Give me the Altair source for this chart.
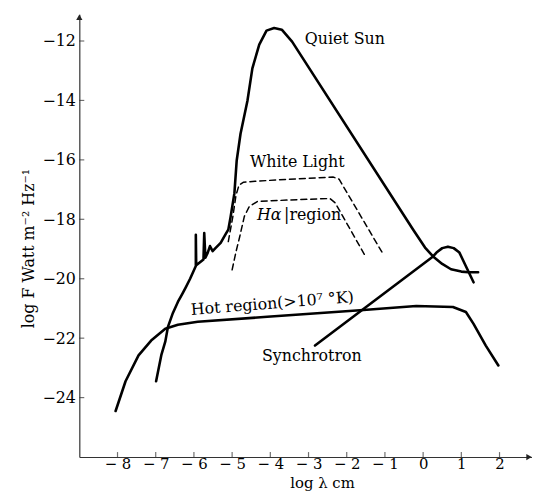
import altair as alt
import pandas as pd

# ---- axes ----
X_DOMAIN = [-9, 2.85]
Y_DOMAIN = [-26, -11.1]
X_TICKS = [-8, -7, -6, -5, -4, -3, -2, -1, 0, 1, 2]
Y_TICKS = [-24, -22, -20, -18, -16, -14, -12]

# ---- curves (log lambda [cm], log F) ----
quiet_x = [-6.99, -6.85, -6.75, -6.68, -6.55, -6.42, -6.3, -6.21, -6.1, -5.95,
           -5.95, -5.94, -5.75, -5.73, -5.7, -5.64, -5.58, -5.51, -5.43, -5.3,
           -5.17, -5.1, -5.04, -4.94, -4.88, -4.78, -4.6, -4.47, -4.29, -4.1,
           -3.9, -3.7, -3.43, -0.26, 0.05, 0.26, 0.5, 0.73, 1.0, 1.19, 1.44]
quiet_y = [-23.45, -22.55, -22.12, -21.62, -21.15, -20.78, -20.5, -20.28, -20.0, -19.57,
           -18.52, -19.55, -19.35, -18.46, -19.29, -19.13, -18.9, -19.07, -18.96, -18.79,
           -18.5, -18.35, -17.92, -17.12, -16.02, -15.12, -14.02, -12.92, -12.12, -11.65,
           -11.56, -11.62, -12.02, -18.35, -18.95, -19.25, -19.5, -19.68, -19.76, -19.78, -19.78]

hot_x = [-8.05, -7.79, -7.45, -7.12, -6.75, -6.42, -5.9, -4.08, -1.56, -0.18,
         0.78, 1.12, 1.32, 1.64, 1.97]
hot_y = [-24.45, -23.45, -22.58, -22.08, -21.68, -21.55, -21.45, -21.28, -21.05, -20.92,
         -20.95, -21.12, -21.52, -22.25, -22.92]

sync_x = [-2.83, 0.26, 0.35, 0.5, 0.65, 0.8, 0.95, 1.12, 1.32]
sync_y = [-22.25, -19.25, -19.12, -18.97, -18.92, -18.97, -19.12, -19.58, -20.12]

white_x = [-5.1, -4.98, -4.9, -4.82, -4.7, -4.4, -3.5, -2.35, -2.2, -1.08]
white_y = [-18.75, -17.9, -17.2, -16.85, -16.75, -16.72, -16.65, -16.58, -16.65, -19.1]

halpha_x = [-5.0, -4.9, -4.8, -4.68, -4.55, -4.34, -3.5, -2.44, -2.3, -1.53]
halpha_y = [-19.7, -19.1, -18.58, -17.9, -17.57, -17.4, -17.35, -17.3, -17.45, -19.2]

# ---- labels ----
label_text = ["Quiet Sun", "White Light", "|region", "Synchrotron"]
label_x = [-3.10, -4.53, -3.64, -4.22]
label_y = [-11.95, -16.08, -17.85, -22.6]
italic_text = ["Hα"]
italic_x = [-4.35]
italic_y = [-17.85]
hot_text = ["Hot region(>10⁷ °K)"]
hot_lx = [-6.08]
hot_ly = [-21.05]

FONT = "DejaVu Serif"


def frame(xs, ys):
    return pd.DataFrame({"x": xs, "y": ys, "i": list(range(len(xs)))})


x_axis = alt.Axis(values=X_TICKS, title="log λ cm", ticks=False, grid=False,
                  domainColor="#333333", domainWidth=1.2,
                  labelFont=FONT, labelFontSize=15, labelColor="black", labelPadding=0,
                  labelExpr="datum.value < 0 ? '− ' + abs(datum.value) : '' + datum.value",
                  labelFlush=False,
                  titleFont=FONT, titleFontSize=15, titleFontWeight="normal", titleColor="black",
                  titleX=245, titleY=26, titleAlign="center", titleBaseline="middle")
y_axis = alt.Axis(values=Y_TICKS, title="log F Watt m⁻² Hz⁻¹", ticks=False, grid=False,
                  domainColor="#333333", domainWidth=1.2,
                  labelFont=FONT, labelFontSize=16, labelColor="black", labelPadding=4,
                  labelExpr="'−' + abs(datum.value)", labelFlush=False,
                  titleFont=FONT, titleFontSize=16, titleFontWeight="normal", titleColor="black",
                  titleAngle=270, titleX=-51, titleY=236, titleAlign="center",
                  titleBaseline="middle")

X = alt.X("x:Q", scale=alt.Scale(domain=X_DOMAIN, nice=False, zero=False), axis=x_axis)
Y = alt.Y("y:Q", scale=alt.Scale(domain=Y_DOMAIN, nice=False, zero=False), axis=y_axis)


def curve(xs, ys, dashed=False):
    props = dict(color="black", strokeWidth=1.5 if dashed else 2.6,
                 strokeCap="round", strokeJoin="round")
    if dashed:
        props["strokeDash"] = [6, 4]
    return alt.Chart(frame(xs, ys)).mark_line(**props).encode(x=X, y=Y, order="i:O")


layers = [
    curve(quiet_x, quiet_y),
    curve(hot_x, hot_y),
    curve(sync_x, sync_y),
    curve(white_x, white_y, dashed=True),
    curve(halpha_x, halpha_y, dashed=True),
]

# axis ticks drawn inside the plot
xt = alt.Chart(pd.DataFrame({"x": X_TICKS})).mark_tick(
    orient="vertical", size=5, thickness=1.2, color="#333333", yOffset=-2.5
).encode(x=X, y=alt.YDatum(Y_DOMAIN[0]))
yt = alt.Chart(pd.DataFrame({"y": Y_TICKS})).mark_tick(
    orient="horizontal", size=5, thickness=1.2, color="#333333", xOffset=2.5
).encode(y=Y, x=alt.XDatum(X_DOMAIN[0]))

# arrow heads
ax_up = alt.Chart(pd.DataFrame({"x": [X_DOMAIN[0]], "y": [Y_DOMAIN[1]]})).mark_point(
    shape="triangle-up", filled=True, size=40, color="#222222", opacity=1, yOffset=3
).encode(x=X, y=Y)
ax_right = alt.Chart(pd.DataFrame({"x": [X_DOMAIN[1]], "y": [Y_DOMAIN[0]]})).mark_point(
    shape="triangle-right", filled=True, size=40, color="#222222", opacity=1, xOffset=-3
).encode(x=X, y=Y)

labels = alt.Chart(pd.DataFrame({"x": label_x, "y": label_y, "t": label_text})).mark_text(
    font=FONT, fontSize=16, align="left", baseline="middle", color="black"
).encode(x=X, y=Y, text="t:N")
italic = alt.Chart(pd.DataFrame({"x": italic_x, "y": italic_y, "t": italic_text})).mark_text(
    font=FONT, fontSize=16, fontStyle="italic", align="left", baseline="middle", color="black"
).encode(x=X, y=Y, text="t:N")
hot_label = alt.Chart(pd.DataFrame({"x": hot_lx, "y": hot_ly, "t": hot_text})).mark_text(
    font=FONT, fontSize=16, align="left", baseline="middle", color="black", angle=355.5
).encode(x=X, y=Y, text="t:N")

chart = alt.layer(*layers, xt, yt, ax_up, ax_right, labels, italic, hot_label).properties(
    width=457, height=447,
    autosize=alt.AutoSizeParams(type="none"),
    padding={"left": 72, "top": 4, "right": 0, "bottom": 35},
    background="white",
).configure_view(stroke=None)

chart.save("out.html", embed_options={"renderer": "svg", "actions": False})
